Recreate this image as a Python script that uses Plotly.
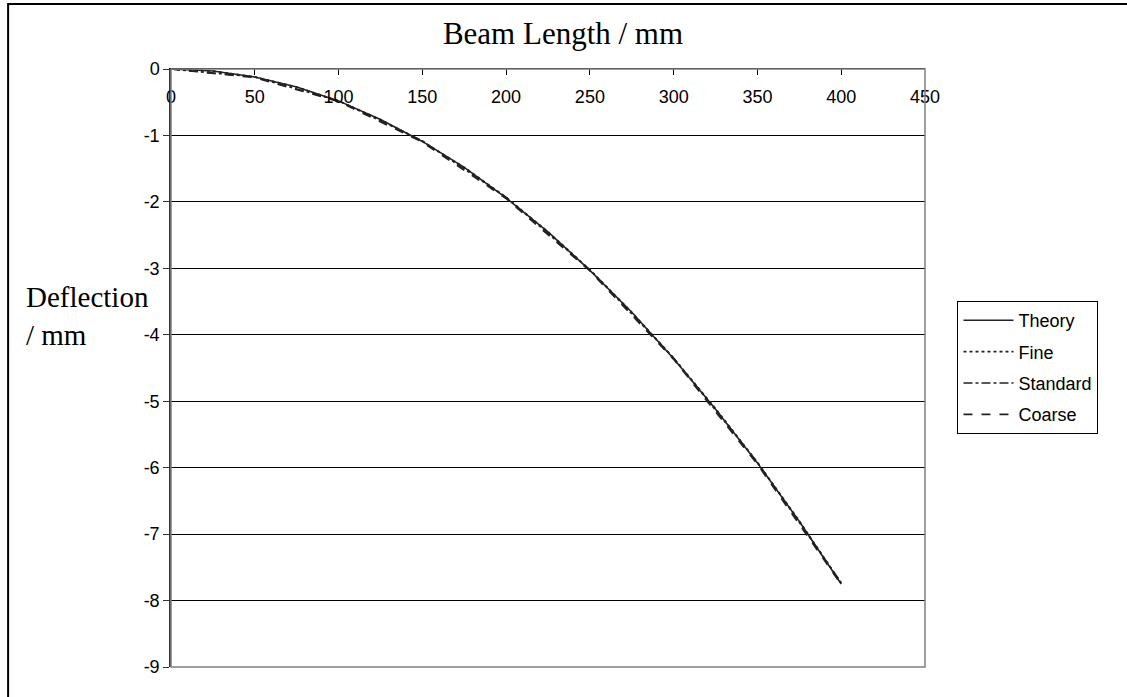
import plotly.graph_objects as go

# Beam positions (mm) and deflections (mm)
x_theory = [0, 25, 50, 75, 100, 125, 150, 175, 200, 225, 250, 275, 300, 325, 350, 375, 400]
y_theory = [0, -0.03, -0.12, -0.27, -0.48, -0.76, -1.09, -1.48, -1.94, -2.45, -3.03, -3.66, -4.36, -5.12, -5.93, -6.81, -7.75]

x_fine = [0, 25, 50, 75, 100, 125, 150, 175, 200, 225, 250, 275, 300, 325, 350, 375, 400]
y_fine = [0, -0.03, -0.12, -0.27, -0.48, -0.76, -1.09, -1.48, -1.93, -2.45, -3.02, -3.66, -4.35, -5.11, -5.92, -6.80, -7.74]

x_standard = [0, 50, 100, 150, 200, 250, 300, 350, 400]
y_standard = [0, -0.12, -0.48, -1.08, -1.93, -3.02, -4.35, -5.92, -7.73]

x_coarse = [0, 50, 100, 150, 200, 250, 300, 350, 400]
y_coarse = [0, -0.13, -0.49, -1.10, -1.95, -3.04, -4.37, -5.95, -7.76]

x_ticks = [0, 50, 100, 150, 200, 250, 300, 350, 400, 450]
y_ticks = [0, -1, -2, -3, -4, -5, -6, -7, -8, -9]
y_tick_text = ["0", "-1", "-2", "-3", "-4", "-5", "-6", "-7", "-8", "-9"]

series = [
    ("Theory", x_theory, y_theory, "solid"),
    ("Fine", x_fine, y_fine, "dot"),
    ("Standard", x_standard, y_standard, "dashdot"),
    ("Coarse", x_coarse, y_coarse, "dash"),
]

fig = go.Figure()
for name, xs, ys, dash in series:
    fig.add_trace(go.Scatter(
        x=xs, y=ys, mode="lines", name=name, legendgroup=name,
        line=dict(color="#222222", width=1.6, dash=dash),
    ))

W, H = 1127, 697
L, R, T, B = 171, 925.5, 69, 667
pw, ph = R - L, B - T

def px(xp):
    return (xp - L) / pw

def py(yp):
    return (B - yp) / ph

fig.update_layout(
    width=W, height=H,
    margin=dict(l=L, r=W - R, t=T, b=H - B, autoexpand=False),
    paper_bgcolor="white", plot_bgcolor="white",
    font=dict(family="Liberation Sans, Arial", size=18, color="black"),
    title=dict(text="Beam Length / mm", x=563 / W, xanchor="center",
               y=1 - 33 / H, yanchor="middle",
               font=dict(family="Liberation Serif, Times New Roman", size=31, color="black")),
    showlegend=True,
    legend=dict(x=px(958), y=py(301), xanchor="left", yanchor="top",
                bordercolor="black", borderwidth=1, bgcolor="white",
                tracegroupgap=5, traceorder="grouped", itemwidth=50,
                font=dict(family="Liberation Sans, Arial", size=18, color="black")),
    xaxis=dict(range=[0, 450], tickvals=x_ticks, side="top", ticks="inside",
               ticklen=6, tickcolor="black", ticklabelposition="inside",
               ticklabeloverflow="allow", ticklabelstandoff=16,
               showline=True, linecolor="black", linewidth=1,
               showgrid=False, zeroline=False,
               tickfont=dict(family="Liberation Sans, Arial", size=18, color="black")),
    yaxis=dict(range=[-9, 0], tickvals=y_ticks, ticktext=y_tick_text,
               ticks="outside", ticklen=6, ticklabeloverflow="allow",
               tickcolor="#333333", showline=True, linecolor="#333333", linewidth=1.5,
               showgrid=True, gridcolor="black", gridwidth=1, zeroline=False,
               tickfont=dict(family="Liberation Sans, Arial", size=18, color="black")),
    shapes=[
        dict(type="rect", xref="paper", yref="paper", x0=0, x1=1, y0=0, y1=1,
             line=dict(color="#808080", width=1.5), layer="above"),
        dict(type="rect", xref="paper", yref="paper",
             x0=px(8), x1=px(1140), y0=py(4), y1=py(720),
             line=dict(color="black", width=2), layer="above"),
    ],
    annotations=[
        dict(text="Deflection<br>/ mm", xref="paper", yref="paper",
             x=px(24), y=py(316), xanchor="left", yanchor="middle", align="left",
             showarrow=False,
             font=dict(family="Liberation Serif, Times New Roman", size=29, color="black")),
    ],
)

fig.write_html("out.html", config={"displayModeBar": False},
               post_script="document.body.style.margin='0';")
